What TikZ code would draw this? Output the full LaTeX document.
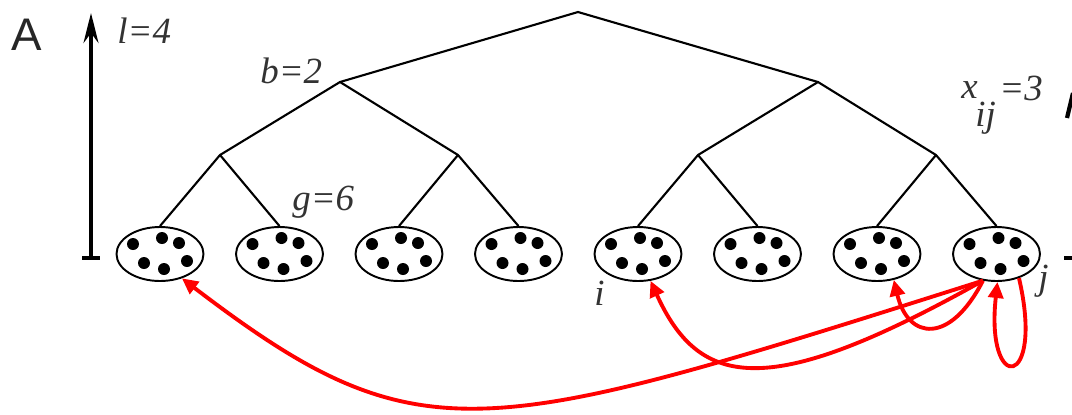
\documentclass[tikz,border=0pt]{standalone}
\usepackage{fontspec}
\setmainfont{Liberation Serif}
\newfontfamily\sansA{Liberation Sans}
\usetikzlibrary{arrows.meta,shapes.geometric}
\begin{document}
\begin{tikzpicture}[x=0.02cm,y=-0.02cm,
  branch/.style={line width=1.2pt,line join=round},
  leaf/.style={ellipse,draw,line width=1.1pt,minimum width=1.74cm,minimum height=1.08cm,inner sep=0pt},
  link/.style={red,line width=2.2pt,-{Triangle[length=0.32cm,width=0.3cm]}},
  lab/.style={font=\itshape\fontsize{21}{21}\selectfont,text=black!80,inner sep=0pt},
  axis/.style={line width=2pt}]
\useasboundingbox (0,0) rectangle (1072,414);

% leaves: groups of size g
\foreach \k/\cx in {1/160,2/279.5,3/399,4/518.5,5/638,6/757.5,7/877,8/996.5}{
  \node[leaf] (l\k) at (\cx,254) {};
  \foreach \dx/\dy in {-27/-10,2/-16,19/-11,-16/9,4/15,27/7}
    \fill ({\cx+\dx},{254+\dy}) circle[radius=0.12cm];
}

% tree of branching factor b
\coordinate (root) at (578,12);
\coordinate (n1) at (340,82);
\coordinate (n2) at (818,82);
\coordinate (n11) at (220,155);
\coordinate (n12) at (458,155);
\coordinate (n21) at (698,155);
\coordinate (n22) at (936,155);
\draw[branch] (n1) -- (root) -- (n2);
\draw[branch] (n11) -- (n1) -- (n12);
\draw[branch] (n21) -- (n2) -- (n22);
\draw[branch] (l1.north) -- (n11) -- (l2.north);
\draw[branch] (l3.north) -- (n12) -- (l4.north);
\draw[branch] (l5.north) -- (n21) -- (l6.north);
\draw[branch] (l7.north) -- (n22) -- (l8.north);

% level axis
\coordinate (axb) at (91,258);
\coordinate (axt) at (91,13);
\coordinate (tk1) at (82,258);
\coordinate (tk2) at (100,258);
\draw[axis,-{Stealth[length=0.6cm,width=0.3cm,inset=0.2cm]}] (axb) -- (axt);
\draw[axis] (tk1) -- (tk2);

% edge of the neighbouring panel
\coordinate (e1) at (1067,118);
\coordinate (e2) at (1073,93);
\coordinate (e3) at (1064,258);
\coordinate (e4) at (1073,258);
\draw[line width=2.4pt] (e1) -- (e2);
\draw[axis] (e3) -- (e4);

% labels
\node[font=\sansA\fontsize{26}{26}\selectfont,text=black!85,inner sep=0pt] (tA) at (27,35) {A};
\node[lab,anchor=base west] (tl) at (117,43) {l=4};
\node[lab,anchor=base west] (tb) at (260,83) {b=2};
\node[lab,anchor=base west] (tg) at (292,210) {g=6};
\node[lab,anchor=base west] (tx) at (961,98) {x};
\node[lab,anchor=base west] (tij) at (975,126) {ij};
\node[lab,anchor=base west] (teq) at (999,100) {=3};
\node[lab,anchor=base west] (ti) at (594,305) {i};
\node[lab,anchor=base west] (tj) at (1038,289) {j};

% traffic from group j
\draw[link] (l8.243) .. controls (480,440) and (420,460) .. (l1.-48);
\draw[link] (l8.243) .. controls (770,400) and (700,390) .. (l5.-65);
\draw[link] (l8.243) .. controls (950,345) and (908,340) .. (l7.-57);
\draw[link] (l8.-47) .. controls (1045,390) and (985,395) .. (l8.272);
\end{tikzpicture}
\end{document}
